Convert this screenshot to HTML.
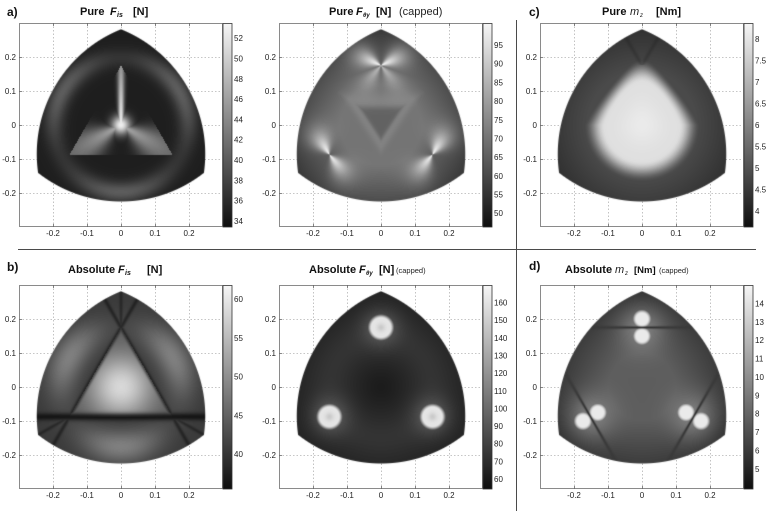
<!DOCTYPE html>
<html><head><meta charset="utf-8">
<style>
html,body{margin:0;padding:0;background:#fff;}
#wrap{position:relative;width:768px;height:511px;overflow:hidden;background:#fff;}
#wrap svg,#wrap canvas{position:absolute;left:0;top:0;}
.t{font-family:"Liberation Sans",Arial,sans-serif;font-size:8px;fill:#222;}
.ti{font-family:"Liberation Sans",Arial,sans-serif;font-weight:bold;fill:#111;}
.cp{font-family:"Liberation Sans",Arial,sans-serif;font-weight:normal;fill:#222;}
.gr{stroke:#b4b4b4;stroke-width:0.8;stroke-dasharray:1.5,2;fill:none;}
.fr{fill:none;stroke:#8a8a8a;stroke-width:1;}
.tk{stroke:#666;stroke-width:0.8;fill:none;}
.cb{stroke:#333;stroke-width:0.8;}
</style></head><body><div id="wrap">

<svg id="under" width="768" height="511">
<defs>
<g id="grid">
<path class="gr" d="M34.5,0V204M68.5,0V204M102.5,0V204M136.5,0V204M170.5,0V204M0,34.5H204M0,68.5H204M0,102.5H204M0,136.5H204M0,170.5H204"/>
<path class="fb" d="M102,6.3 A134.3,134.3 0 0 0 19.1,149.9 A134.3,134.3 0 0 0 184.9,149.9 A134.3,134.3 0 0 0 102,6.3 Z" fill="#3a3a3a"/>
</g>
</defs>
<use href="#grid" x="19" y="23"/>
<use href="#grid" x="279" y="23"/>
<use href="#grid" x="540" y="23"/>
<use href="#grid" x="19" y="285"/>
<use href="#grid" x="279" y="285"/>
<use href="#grid" x="540" y="285"/>
</svg>

<canvas id="cv" width="768" height="511"></canvas>

<svg id="over" width="768" height="511">
<defs>
<linearGradient id="cbg" x1="0" y1="0" x2="0" y2="1">
<stop offset="0" stop-color="#f6f6f6"/><stop offset="1" stop-color="#0e0e0e"/>
</linearGradient>
<g id="ax">
<rect class="fr" x="0.5" y="0.5" width="203" height="203"/>
<path class="tk" d="M34.5,204v-3M68.5,204v-3M102.5,204v-3M136.5,204v-3M170.5,204v-3M34.5,0v3M68.5,0v3M102.5,0v3M136.5,0v3M170.5,0v3M0,34.5h3M0,68.5h3M0,102.5h3M0,136.5h3M0,170.5h3"/>
<text class="t" x="34" y="213" text-anchor="middle">-0.2</text>
<text class="t" x="68" y="213" text-anchor="middle">-0.1</text>
<text class="t" x="102" y="213" text-anchor="middle">0</text>
<text class="t" x="136" y="213" text-anchor="middle">0.1</text>
<text class="t" x="170" y="213" text-anchor="middle">0.2</text>
<text class="t" x="-3" y="37" text-anchor="end">0.2</text>
<text class="t" x="-3" y="71" text-anchor="end">0.1</text>
<text class="t" x="-3" y="105" text-anchor="end">0</text>
<text class="t" x="-3" y="139" text-anchor="end">-0.1</text>
<text class="t" x="-3" y="173" text-anchor="end">-0.2</text>
<rect class="cb" x="204" y="0.5" width="9" height="203.5" fill="url(#cbg)"/>
</g>
</defs>

<!-- separators -->
<path d="M516.5,20V511M18,249.5H756" stroke="#4a4a4a" stroke-width="1" fill="none"/>

<!-- panel a -->
<g transform="translate(19,23)">
<use href="#ax"/>
<g class="t">
<text x="215" y="200.9">34</text><text x="215" y="180.6">36</text><text x="215" y="160.3">38</text>
<text x="215" y="140">40</text><text x="215" y="119.7">42</text><text x="215" y="99.4">44</text>
<text x="215" y="79.1">46</text><text x="215" y="58.8">48</text><text x="215" y="38.5">50</text>
<text x="215" y="18.2">52</text>
</g>
</g>
<!-- panel top middle -->
<g transform="translate(279,23)">
<use href="#ax"/>
<g class="t">
<text x="215" y="193.2">50</text><text x="215" y="174.5">55</text><text x="215" y="155.8">60</text>
<text x="215" y="137.1">65</text><text x="215" y="118.5">70</text><text x="215" y="99.8">75</text>
<text x="215" y="81.1">80</text><text x="215" y="62.4">85</text><text x="215" y="43.7">90</text>
<text x="215" y="25.1">95</text>
</g>
</g>
<!-- panel c -->
<g transform="translate(540,23)">
<use href="#ax"/>
<g class="t">
<text x="215" y="191.1">4</text><text x="215" y="169.6">4.5</text><text x="215" y="148.1">5</text>
<text x="215" y="126.5">5.5</text><text x="215" y="105">6</text><text x="215" y="83.5">6.5</text>
<text x="215" y="62">7</text><text x="215" y="40.4">7.5</text><text x="215" y="18.9">8</text>
</g>
</g>
<!-- panel b -->
<g transform="translate(19,285)">
<use href="#ax"/>
<g class="t">
<text x="215" y="172.1">40</text><text x="215" y="133.3">45</text><text x="215" y="94.5">50</text>
<text x="215" y="55.8">55</text><text x="215" y="17">60</text>
</g>
</g>
<!-- panel bottom middle -->
<g transform="translate(279,285)">
<use href="#ax"/>
<g class="t">
<text x="215" y="196.9">60</text><text x="215" y="179.3">70</text><text x="215" y="161.7">80</text>
<text x="215" y="144">90</text><text x="215" y="126.4">100</text><text x="215" y="108.8">110</text>
<text x="215" y="91.1">120</text><text x="215" y="73.5">130</text><text x="215" y="55.9">140</text>
<text x="215" y="38.2">150</text><text x="215" y="20.6">160</text>
</g>
</g>
<!-- panel d -->
<g transform="translate(540,285)">
<use href="#ax"/>
<g class="t">
<text x="215" y="186.8">5</text><text x="215" y="168.4">6</text><text x="215" y="150">7</text>
<text x="215" y="131.7">8</text><text x="215" y="113.3">9</text><text x="215" y="94.9">10</text>
<text x="215" y="76.5">11</text><text x="215" y="58.1">12</text><text x="215" y="39.8">13</text>
<text x="215" y="21.4">14</text>
</g>
</g>

<!-- titles -->
<text class="ti" x="7" y="16" style="font-size:12px">a)</text>
<text class="ti" x="80" y="15" style="font-size:11px">Pure</text>
<text class="ti" x="110" y="15" style="font-size:11px;font-style:italic">F</text>
<text class="ti" x="117" y="17" style="font-size:7px;font-style:italic">is</text>
<text class="ti" x="133" y="15" style="font-size:11px">[N]</text>

<text class="ti" x="329" y="15" style="font-size:11px">Pure</text>
<text class="ti" x="356" y="15" style="font-size:11px;font-style:italic">F</text>
<text class="ti" x="363" y="17" style="font-size:6px;font-style:italic">θy</text>
<text class="ti" x="376" y="15" style="font-size:11px">[N]</text>
<text class="cp" x="399" y="15" style="font-size:11px">(capped)</text>

<text class="ti" x="529" y="16" style="font-size:12px">c)</text>
<text class="ti" x="602" y="15" style="font-size:11px">Pure</text>
<text class="cp" x="630" y="15" style="font-size:11px;font-style:italic">m</text>
<text class="cp" x="640" y="17" style="font-size:6px;font-style:italic">z</text>
<text class="ti" x="656" y="15" style="font-size:11px">[Nm]</text>

<text class="ti" x="7" y="271" style="font-size:12px">b)</text>
<text class="ti" x="68" y="273" style="font-size:11px">Absolute</text>
<text class="ti" x="118" y="273" style="font-size:11px;font-style:italic">F</text>
<text class="ti" x="125" y="275" style="font-size:7px;font-style:italic">is</text>
<text class="ti" x="147" y="273" style="font-size:11px">[N]</text>

<text class="ti" x="309" y="273" style="font-size:11px">Absolute</text>
<text class="ti" x="359" y="273" style="font-size:11px;font-style:italic">F</text>
<text class="ti" x="366" y="275" style="font-size:6px;font-style:italic">θy</text>
<text class="ti" x="379" y="273" style="font-size:11px">[N]</text>
<text class="cp" x="396" y="273" style="font-size:7.5px">(capped)</text>

<text class="ti" x="529" y="270" style="font-size:12px">d)</text>
<text class="ti" x="565" y="273" style="font-size:11px">Absolute</text>
<text class="cp" x="615" y="273" style="font-size:11px;font-style:italic">m</text>
<text class="cp" x="625" y="275" style="font-size:6px;font-style:italic">z</text>
<text class="ti" x="634" y="273" style="font-size:9.5px">[Nm]</text>
<text class="cp" x="659" y="273" style="font-size:7.5px">(capped)</text>
</svg>
</div>
<script>
(function(){
const D=Math.PI/180,S=340,c30=Math.cos(30*D);
const CEN=[[0,0.17],[0.17*Math.cos(210*D),0.17*Math.sin(210*D)],[0.17*Math.cos(330*D),0.17*Math.sin(330*D)]];
const PA=[90*D,210*D,330*D];
const PK=PA.map(a=>[0.175*Math.cos(a),0.175*Math.sin(a)]);
function G(d,s){const t=d/s;return Math.exp(-t*t);}
function ad(a,b){let d=a-b;while(d>Math.PI)d-=2*Math.PI;while(d<-Math.PI)d+=2*Math.PI;return d;}
function ss(a,b,x){let t=(x-a)/(b-a);t=t<0?0:t>1?1:t;return t*t*(3-2*t);}
function cl(v){return v<0?0:v>1?1:v;}
function tri(x,y){return Math.max(-y,x*c30+y*0.5,-x*c30+y*0.5);}

function fa(x,y){
  const r=Math.hypot(x,y),a=Math.atan2(y,x),t=tri(x,y);
  let v;
  const m=0.5+0.5*Math.cos(3*(a-30*D));
  if(t<0.0875){
    const up=(y>0&&y<0.175)?G(x,0.008+0.02*y)*(0.92-2.4*y):0;
    const e=0.6-1.6*r;
    const dl=G(ad(a,PA[1]),0.45)*e,dr=G(ad(a,PA[2]),0.45)*e;
    const cen=0.9*G(r,0.028);
    v=0.07+Math.max(up,dl,dr,cen,0);
  }else{
    v=0.07+0.27*G(r-0.197,0.03)*(0.35+0.65*m);
  }
  return v;
}
function fb(x,y){
  const r=Math.hypot(x,y),a=Math.atan2(y,x),t=tri(x,y);
  let v;
  if(t<0.0875){v=0.32+0.55*G(r,0.095);}
  else{const m=0.5+0.5*Math.cos(3*(a-30*D));v=0.19+0.3*G(r-0.175,0.05)*(0.2+0.8*m);}
  const eb=Math.abs(y+0.0875),er=Math.abs(x*c30+y*0.5-0.0875),el=Math.abs(-x*c30+y*0.5-0.0875);
  let f=1-0.85*G(eb,0.011);
  f=Math.min(f,1-0.55*G(er,0.006),1-0.55*G(el,0.006));
  for(let k=0;k<3;k++){const ux=Math.cos(PA[k]),uy=Math.sin(PA[k]);const s=x*ux+y*uy;
    if(s>0.175){const q=Math.abs(-x*uy+y*ux);f=Math.min(f,1-0.45*G(q,0.005));}}
  return v*f;
}
function fb2(x,y){
  const r=Math.hypot(x,y);
  let v=0.44-1.6*Math.max(0,r-0.12);
  const ti=Math.max(y-0.055,-0.045+Math.abs(x)*1.51-y);
  v-=0.08*(1-ss(-0.015,0.01,ti));
  if(r<0.16)v+=0.06*G(ti-0.015,0.025);
  v=Math.max(v,0.07);
  const lob=[[[155,0.95,0.55],[25,0.95,0.55],[230,0.55,0.45],[310,0.55,0.45]],
             [[120,0.95,0.6],[310,0.92,0.55]],
             [[60,0.95,0.6],[230,0.92,0.55]]];
  let L=0;
  for(let k=0;k<3;k++){
    const dx=x-PK[k][0],dy=y-PK[k][1],rho=Math.hypot(dx,dy),ph=Math.atan2(dy,dx);
    const rad=G(rho,0.075);
    for(const o of lob[k]){L=Math.max(L,o[1]*G(ad(ph,o[0]*D),o[2])*rad);}
  }
  return v+(1-v)*L;
}
function fc(x,y){
  const r=Math.hypot(x,y);
  let base=Math.max(0.08,0.26-0.9*Math.max(0,r-0.16));
  const yy=Math.max(0,y);
  const sx=0.155*(1-0.5*Math.min(1,yy/0.175));
  const q=Math.hypot(x/sx,y>0?y/0.178:y/0.152);
  const b=1-ss(0.7,1.1,q);
  let v=base+(0.9-base)*b+0.05*G(q,0.4);
  const er=Math.abs(x*c30+y*0.5-0.0875),el=Math.abs(-x*c30+y*0.5-0.0875);
  if(y>0.175){v*=Math.min(1-0.2*G(er,0.006),1-0.2*G(el,0.006));}
  return v;
}
function fe(x,y){
  const r=Math.hypot(x,y);
  let v=0.09+0.07*G(r-0.15,0.07)-0.03*G(r,0.05);
  for(let k=0;k<3;k++){
    const rho=Math.hypot(x-PK[k][0],y-PK[k][1]);
    const s=rho<0.027?0.93-0.12*G(rho,0.012):0.93*G(rho-0.027,0.011);
    const halo=0.22*G(rho,0.055);
    v=v+halo*(1-v);
    v=Math.max(v,s);
  }
  return v;
}
function fd(x,y){
  const r=Math.hypot(x,y);
  let v=Math.max(0.1,0.34-1.1*Math.max(0,r-0.1));
  let f=1;
  for(let k=0;k<3;k++){
    const ux=Math.cos(PA[k]),uy=Math.sin(PA[k]);
    const dx=x-PK[k][0],dy=y-PK[k][1];
    const s=dx*ux+dy*uy,q=-dx*uy+dy*ux;
    const d1=Math.hypot(s-0.025,q),d2=Math.hypot(s+0.025,q);
    const lobe=0.95*(1-ss(0.016,0.036,Math.min(d1,d2)));
    const halo=0.3*G(Math.hypot(s,q),0.07);
    v=v+halo*(1-v);
    v=Math.max(v,lobe);
    f=Math.min(f,1-0.7*G(s,0.003+0.02*Math.abs(q))*G(q,0.1));
  }
  return v*f;
}
const cv=document.getElementById('cv'),ctx=cv.getContext('2d');
const P=[[121,125,fa],[381,125,fb2],[642,125,fc],[121,387,fb],[381,387,fe],[642,387,fd]];
for(const p of P){
  const x0=p[0],y0=p[1],f=p[2];
  const w=204,h=204,L=x0-102,T=y0-102;
  const img=ctx.createImageData(w,h);
  const d=img.data;
  for(let j=0;j<h;j++)for(let i=0;i<w;i++){
    const x=(L+i+0.5-x0)/S,y=(y0-(T+j+0.5))/S;
    let md=0;for(const c of CEN){const dd=Math.hypot(x-c[0],y-c[1]);if(dd>md)md=dd;}
    const al=cl((0.395-md)*S+0.5);
    const idx=(j*w+i)*4;
    if(al<=0){d[idx+3]=0;continue;}
    const v=cl(f(x,y));
    const g=Math.round(14+v*232);
    d[idx]=g;d[idx+1]=g;d[idx+2]=g;d[idx+3]=Math.round(al*255);
  }
  ctx.putImageData(img,L,T);
}
document.querySelectorAll('.fb').forEach(e=>e.setAttribute('fill','none'));
})();
</script>
</body></html>
